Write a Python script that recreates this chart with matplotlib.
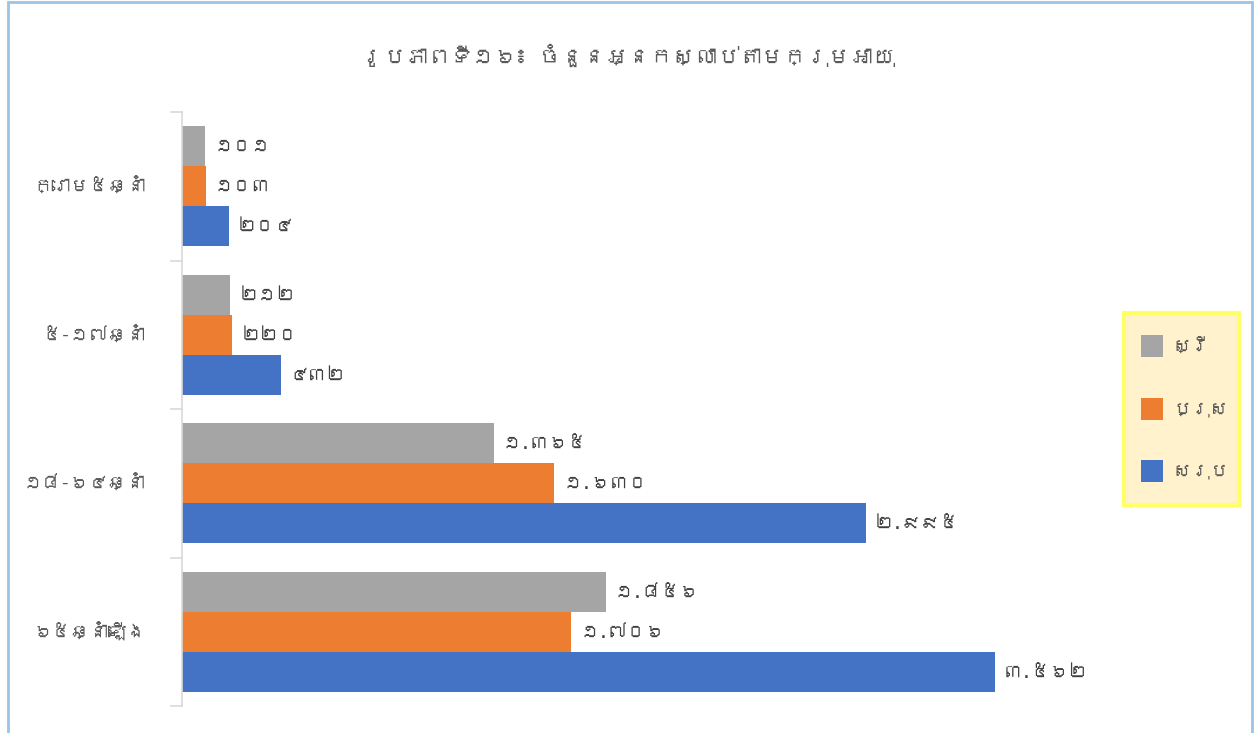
import matplotlib
matplotlib.use("Agg")
import matplotlib.pyplot as plt
from matplotlib import font_manager
from matplotlib.patches import Rectangle
import numpy as np

# ---- data ----
categories = ["ក្រោម៥ឆ្នាំ", "៥-១៧ឆ្នាំ", "១៨-៦៤ឆ្នាំ", "៦៥ឆ្នាំឡើង"]
series_names = ["ស្រី", "ប្រុស", "សរុប"]
female = [101, 212, 1365, 1856]
male = [103, 220, 1630, 1706]
total = [204, 432, 2995, 3562]
title = "រូបភាពទី១៦៖ ចំនួនអ្នកស្លាប់តាមក្រុមអាយុ"
colors = ["#A5A5A5", "#ED7D31", "#4472C4"]

# ---- font: find one covering Khmer ----
khmer_family = None
try:
    from matplotlib.ft2font import FT2Font
    for f in font_manager.fontManager.ttflist:
        try:
            ft = FT2Font(f.fname)
            cmap = ft.get_charmap()
            if 0x1780 in cmap and 0x17E1 in cmap:
                khmer_family = f.name
                break
        except Exception:
            pass
except Exception:
    pass
families = ([khmer_family] if khmer_family else []) + ["DejaVu Sans"]
plt.rcParams["font.family"] = families

KH_DIGITS = "០១២៣៤៥៦៧៨៩"


def kh_num(v):
    s = f"{v:,}".replace(",", ".")
    return "".join(KH_DIGITS[int(c)] if c.isdigit() else c for c in s)


W, H = 1256, 733
fig = plt.figure(figsize=(W / 100, H / 100), dpi=100)
fig.patch.set_facecolor("white")

ax = fig.add_axes([182 / W, 1 - 706 / H, (1095 - 182) / W, (706 - 112) / H])
n = len(categories)
ypos = np.arange(n)
bh = 40 / 148.5
series = [female, male, total]
for i, (vals, col, name) in enumerate(zip(series, colors, series_names)):
    y = ypos + (i - 1) * bh
    ax.barh(y, vals, height=bh, color=col, label=name, edgecolor="none")
    for yy, v in zip(y, vals):
        ax.text(v + 40, yy, kh_num(v), va="center", ha="left",
                fontsize=13.5, color="#404040")

ax.set_ylim(n - 0.5, -0.5)
ax.set_xlim(0, 4000)
ax.set_xticks([])
ax.set_yticks([])
for s in ["top", "right", "bottom"]:
    ax.spines[s].set_visible(False)
ax.spines["left"].set_color("#D9D9D9")
ax.spines["left"].set_linewidth(1.2)
# category boundary ticks
for b in np.arange(n + 1) - 0.5:
    ax.plot([-0.012, 0], [b, b], transform=ax.get_yaxis_transform(),
            color="#D9D9D9", lw=1.2, clip_on=False)
for yy, c in zip(ypos, categories):
    ax.text(-0.04, yy, c, transform=ax.get_yaxis_transform(), ha="right",
            va="center", fontsize=13.5, color="#595959")

fig.text(0.5, 1 - 55 / H, title, ha="center", va="center", fontsize=16,
         style="italic", color="#595959")

# legend
lx0, ly0, lx1, ly1 = 1124, 313, 1239, 505
fig.patches.append(Rectangle((lx0 / W, 1 - ly1 / H), (lx1 - lx0) / W, (ly1 - ly0) / H,
                             transform=fig.transFigure, facecolor="#FFF2CC",
                             edgecolor="#FFFF66", linewidth=3, zorder=1))
item_y = [346, 409, 471]
for yy, col, name in zip(item_y, colors, series_names):
    fig.patches.append(Rectangle((1141 / W, 1 - (yy + 11) / H), 22 / W, 22 / H,
                                 transform=fig.transFigure, facecolor=col,
                                 edgecolor="none", zorder=2))
    fig.text(1172 / W, 1 - yy / H, name, ha="left", va="center", fontsize=13.5,
             color="#595959", zorder=3)

# outer border
fig.patches.append(Rectangle((8 / W, -0.01), (1252 - 8) / W, 1 - 2 / H + 0.01,
                             transform=fig.transFigure, facecolor="none",
                             edgecolor="#9DC3E6", linewidth=2, zorder=0))

fig.savefig("out.png", dpi=100, facecolor="white")
